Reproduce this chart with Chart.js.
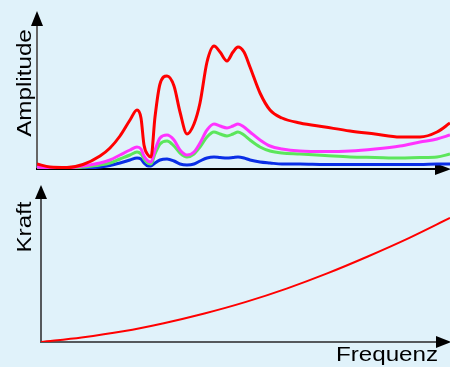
<!DOCTYPE html>
<html>
<head>
<meta charset="utf-8">
<script src="https://cdn.jsdelivr.net/npm/chart.js@4"></script>
<style>
  html, body { margin: 0; padding: 0; background: #e0f2fa; }
  #wrap { position: relative; width: 450px; height: 367px; overflow: hidden; }
  canvas { position: absolute; left: 0; }
  #top { top: 0; }
  #bottom { top: 180px; }
</style>
</head>
<body>
<div id="wrap">
  <canvas id="top" width="450" height="180"></canvas>
  <canvas id="bottom" width="450" height="187"></canvas>
</div>
<script>
// frequency samples (arbitrary units) for the amplitude curves
const freq = [0, 1.3, 3.0, 4.6, 6.3, 7.3, 8.3, 9.3, 10.0, 10.4, 10.7, 11.1, 11.4, 11.8, 12.3, 13.0, 13.7, 14.3, 15.0, 15.7,
  16.3, 17.0, 17.7, 18.3, 19.0, 19.6, 20.1, 20.7, 21.3, 22.3, 23.3, 24.5, 26.3, 28.8, 31.3, 33.8, 36.3, 38.3, 40.0, 41.3]

const ampRed = [0.5, 0.2, 0.15, 0.45, 1.3, 2.1, 3.3, 4.9, 5.9, 5.1, 2.4, 1.4, 1.2, 5.2, 8.5, 9.3, 8.3, 5.7, 3.5, 4.5,
  6.6, 10.7, 12.3, 11.7, 10.8, 11.7, 12.2, 11.7, 10.2, 7.6, 5.9, 5.1, 4.6, 4.2, 3.8, 3.5, 3.2, 3.2, 3.7, 4.6]
const ampMagenta = [0.2, 0.1, 0.1, 0.3, 0.6, 0.9, 1.4, 1.9, 2.2, 2.0, 1.3, 0.8, 0.7, 1.9, 3.1, 3.4, 2.9, 1.9, 1.4, 1.7,
  2.6, 3.9, 4.5, 4.3, 4.1, 4.3, 4.5, 4.2, 3.7, 2.9, 2.3, 2.0, 1.8, 1.75, 1.8, 2.0, 2.3, 2.7, 3.0, 3.4]
const ampGreen = [0.1, 0.05, 0.05, 0.2, 0.4, 0.6, 1.0, 1.4, 1.7, 1.5, 1.0, 0.6, 0.5, 1.5, 2.5, 2.8, 2.3, 1.6, 1.2, 1.5,
  2.2, 3.2, 3.7, 3.5, 3.3, 3.5, 3.7, 3.4, 2.9, 2.2, 1.8, 1.6, 1.5, 1.35, 1.2, 1.15, 1.1, 1.15, 1.2, 1.5]
const ampBlue = [0.05, 0, 0, 0.05, 0.2, 0.35, 0.6, 0.9, 1.1, 1.0, 0.6, 0.3, 0.3, 0.6, 0.9, 1.0, 0.8, 0.5, 0.4, 0.5,
  0.8, 1.1, 1.2, 1.15, 1.1, 1.15, 1.2, 1.1, 0.9, 0.7, 0.6, 0.5, 0.5, 0.45, 0.45, 0.45, 0.45, 0.45, 0.5, 0.5]

// force curve
const forceFreq = [0, 4.1, 8.3, 12.4, 16.5, 20.7, 24.8, 28.9, 33.0, 37.2, 41.3]
const force = [0, 0.45, 1.07, 1.88, 2.85, 4.01, 5.34, 6.86, 8.55, 10.41, 12.4]

const labelFont = '20px "Liberation Sans", Arial, sans-serif'

function pts(xs, ys) {
  return xs.map((x, i) => ({ x: x, y: ys[i] }))
}

function line(data, color, width) {
  return {
    data: data,
    borderColor: color,
    borderWidth: width,
    pointRadius: 0,
    fill: false,
    cubicInterpolationMode: 'monotone'
  }
}

function stretchedText(ctx, text, x, y, rotate) {
  ctx.save()
  ctx.translate(x, y)
  if (rotate) ctx.rotate(-Math.PI / 2)
  ctx.scale(1.21, 1)
  ctx.font = labelFont
  ctx.fillStyle = '#000'
  ctx.textAlign = 'center'
  ctx.textBaseline = 'alphabetic'
  ctx.fillText(text, 0, 0)
  ctx.restore()
}

function tri(ctx, a, b, c) {
  ctx.beginPath()
  ctx.moveTo(a[0], a[1])
  ctx.lineTo(b[0], b[1])
  ctx.lineTo(c[0], c[1])
  ctx.closePath()
  ctx.fill()
}

// axes with arrow heads, drawn under the curves
const axesPlugin = {
  id: 'axes',
  beforeDatasetsDraw(chart, args, opts) {
    const ctx = chart.ctx
    const a = chart.chartArea
    ctx.save()
    ctx.lineWidth = 2
    ctx.strokeStyle = opts.yColor
    ctx.beginPath()
    ctx.moveTo(a.left, a.top + opts.arrowLen)
    ctx.lineTo(a.left, a.bottom + 1)
    ctx.stroke()
    ctx.strokeStyle = opts.xColor
    ctx.beginPath()
    ctx.moveTo(a.left - 1, a.bottom)
    ctx.lineTo(chart.width - opts.arrowLen, a.bottom)
    ctx.stroke()
    ctx.fillStyle = '#000'
    tri(ctx, [a.left, a.top], [a.left - 6, a.top + opts.arrowLen], [a.left + 6, a.top + opts.arrowLen])
    tri(ctx, [chart.width + 1, a.bottom], [chart.width - opts.arrowLen, a.bottom - 6], [chart.width - opts.arrowLen, a.bottom + 6])
    ctx.restore()
  },
  afterDraw(chart, args, opts) {
    (opts.labels || []).forEach(l => stretchedText(chart.ctx, l.text, l.x, l.y, l.rotate))
  }
}

function baseOptions(pad, xMax, yMax, axes) {
  return {
    responsive: false,
    animation: false,
    devicePixelRatio: 1,
    layout: { padding: pad },
    plugins: { legend: { display: false }, tooltip: { enabled: false }, axes: axes },
    scales: {
      x: { type: 'linear', display: false, min: 0, max: xMax },
      y: { display: false, min: 0, max: yMax }
    }
  }
}

new Chart(document.getElementById('top'), {
  type: 'line',
  data: {
    datasets: [
      line(pts(freq, ampRed), '#ff0000', 3),
      line(pts(freq, ampMagenta), '#ff33ff', 3),
      line(pts(freq, ampGreen), '#5ce65c', 3),
      line(pts(freq, ampBlue), '#0a2ee6', 3)
    ]
  },
  options: baseOptions({ left: 37, right: 0, top: 11, bottom: 11 }, 41.3, 15.8, {
    yColor: '#666666', xColor: '#000000', arrowLen: 15,
    labels: [{ text: 'Amplitude', x: 31, y: 83, rotate: true }]
  }),
  plugins: [axesPlugin]
})

new Chart(document.getElementById('bottom'), {
  type: 'line',
  data: {
    datasets: [line(pts(forceFreq, force), '#ff0000', 2)]
  },
  options: baseOptions({ left: 41, right: 0, top: 5, bottom: 25 }, 41.3, 15.7, {
    yColor: '#55595c', xColor: '#55595c', arrowLen: 14,
    labels: [
      { text: 'Kraft', x: 31, y: 47, rotate: true },
      { text: 'Frequenz', x: 387, y: 181, rotate: false }
    ]
  }),
  plugins: [axesPlugin]
})
</script>
</body>
</html>
